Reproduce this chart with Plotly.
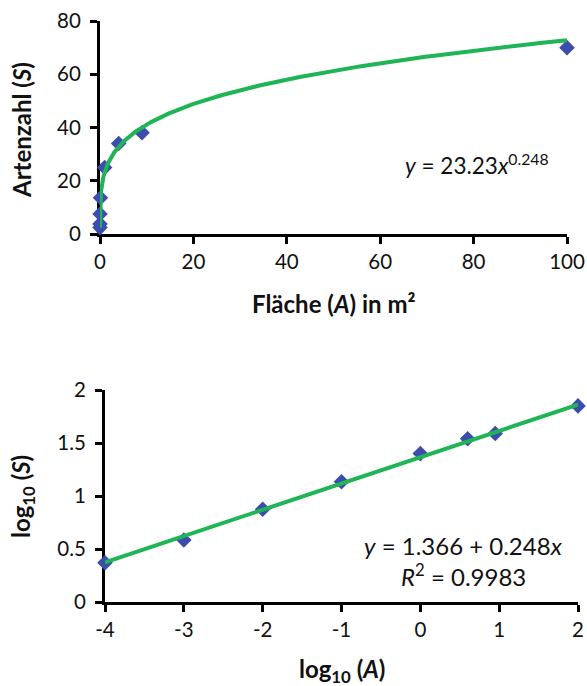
import plotly.graph_objects as go
import numpy as np

# Data
area_m2 = [0.0001, 0.001, 0.01, 0.1, 1, 4, 9, 100]
species = [2.4, 3.8, 7.5, 13.6, 25, 34, 38, 70]
log_area = [-4, -3, -2, -1, 0, 0.6, 0.95, 2]
log_species = [0.37, 0.585, 0.875, 1.135, 1.40, 1.54, 1.59, 1.85]

# Fit parameters (from the chart's equations)
power_c, power_z = 23.23, 0.248
lin_a, lin_b = 1.366, 0.248

top_x_ticks = [0, 20, 40, 60, 80, 100]
top_y_ticks = [0, 20, 40, 60, 80]
bot_x_ticks = [-4, -3, -2, -1, 0, 1, 2]
bot_x_labels = ["-4", "-3", "-2", "-1", "0", "1", "2"]
bot_y_ticks = [0, 0.5, 1, 1.5, 2]
bot_y_labels = ["0", "0.5", "1", "1.5", "2"]

W, H = 587, 686
FONT = "Lato, 'Open Sans', sans-serif"
BLUE = "#3C4DAE"
GREEN = "#1FB557"
TICK_SIZE = 20.5
TITLE_SIZE = 24

fit_x = np.concatenate([np.geomspace(min(area_m2), 1, 300), np.linspace(1, max(area_m2), 500)])
fit_y = power_c * fit_x ** power_z
lin_x = np.array([min(log_area), max(log_area)])
lin_y = lin_a + lin_b * lin_x

fig = go.Figure()
fig.add_trace(go.Scatter(x=area_m2, y=species, mode="markers",
                         marker=dict(symbol="diamond", size=12, color=BLUE),
                         xaxis="x", yaxis="y", cliponaxis=False))
fig.add_trace(go.Scatter(x=fit_x, y=fit_y, mode="lines", line=dict(color=GREEN, width=4),
                         xaxis="x", yaxis="y", cliponaxis=False, hoverinfo="skip"))
fig.add_trace(go.Scatter(x=log_area, y=log_species, mode="markers",
                         marker=dict(symbol="diamond", size=12, color=BLUE),
                         xaxis="x2", yaxis="y2", cliponaxis=False))
fig.add_trace(go.Scatter(x=lin_x, y=lin_y, mode="lines", line=dict(color=GREEN, width=4),
                         xaxis="x2", yaxis="y2", cliponaxis=False, hoverinfo="skip"))


def px(a, b):
    return [a / W, b / W]


def py(top, bottom):
    return [1 - bottom / H, 1 - top / H]


axis_common = dict(showline=True, linecolor="black", linewidth=3, ticks="outside",
                   ticklen=7, tickwidth=3, tickcolor="black", showgrid=False, zeroline=False,
                   automargin=False,
                   tickfont=dict(family=FONT, size=TICK_SIZE, color="#111111"),
                   layer="below traces")

fig.update_layout(
    width=W, height=H, margin=dict(l=0, r=0, t=0, b=0),
    paper_bgcolor="white", plot_bgcolor="white", showlegend=False,
    font=dict(family=FONT, color="#111111"),
    xaxis=dict(domain=px(100, 567), range=[0, 100], tickvals=top_x_ticks, anchor="y",
               **axis_common),
    yaxis=dict(domain=py(21, 234), range=[0, 80], tickvals=top_y_ticks, anchor="x",
               ticklabelstandoff=5, **axis_common),
    xaxis2=dict(domain=px(105, 578), range=[-4, 2], tickvals=bot_x_ticks,
                ticktext=bot_x_labels, anchor="y2", **axis_common),
    yaxis2=dict(domain=py(390, 602), range=[0, 2], tickvals=bot_y_ticks,
                ticktext=bot_y_labels, anchor="x2", ticklabelstandoff=5, **axis_common),
)

titles = [
    ("<b>Fläche (<i>A</i>) in m²</b>", 334, 303, 0),
    ("<b>Artenzahl (<i>S</i>)</b>", 22, 130, -90),
    ("<b>log<sub>10</sub> (<i>A</i>)</b>", 342, 670, 0),
    ("<b>log<sub>10</sub> (<i>S</i>)</b>", 22, 497, -90),
]
for text, cx, cy, ang in titles:
    fig.add_annotation(text=text, x=cx / W, y=1 - cy / H, xref="paper", yref="paper",
                       showarrow=False, textangle=ang, xanchor="center", yanchor="middle",
                       font=dict(family=FONT, size=TITLE_SIZE, color="#111111"))

equations = [
    ("<i>y</i> = 23.23<i>x</i><sup>0.248</sup>", 477, 164, 22.5),
    ("<i>y</i> = 1.366 + 0.248<i>x</i>", 464, 545, 24),
    ("<i>R</i><sup>2</sup> = 0.9983", 464, 575, 24),
]
for text, cx, cy, size in equations:
    fig.add_annotation(text=text, x=cx / W, y=1 - cy / H, xref="paper", yref="paper",
                       showarrow=False, xanchor="center", yanchor="middle",
                       font=dict(family=FONT, size=size, color="#111111"))

fig.write_html("out.html", config={"displayModeBar": False},
               post_script="document.body.style.margin='0';document.body.style.overflow='hidden';")
